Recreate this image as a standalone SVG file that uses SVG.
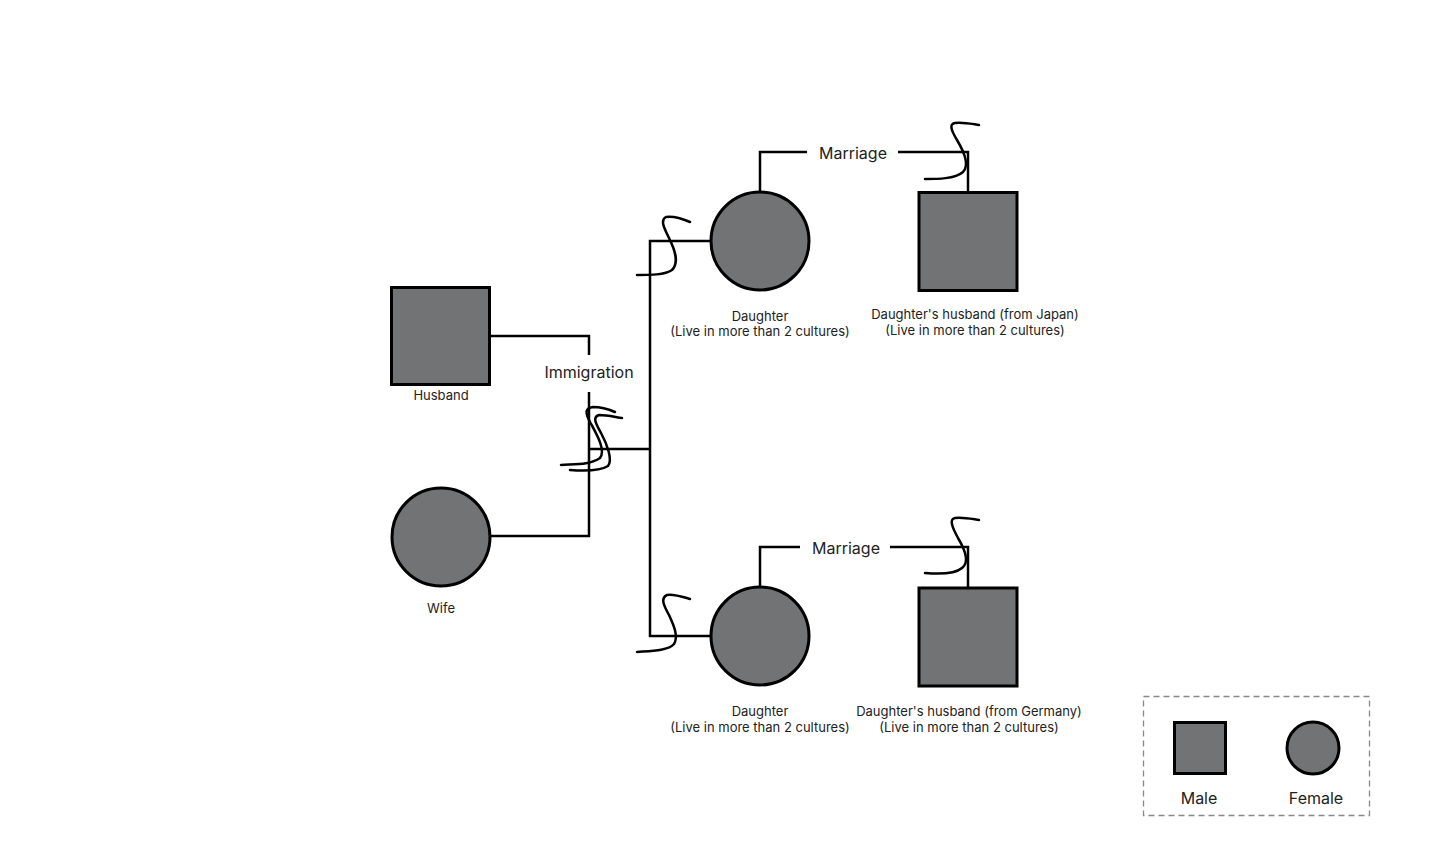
<svg xmlns="http://www.w3.org/2000/svg" width="1443" height="858" viewBox="0 0 1443 858">
<style>
.shape{fill:#727374;stroke:#000;stroke-width:3}
.line{fill:none;stroke:#000;stroke-width:2.5}
.sq{fill:none;stroke:#000;stroke-width:2.5;stroke-linecap:round}
.lbl{font-family:Inter,"Noto Sans",sans-serif;font-size:13px;fill:#222;text-anchor:middle}
.big{font-family:Inter,"Noto Sans",sans-serif;font-size:16px;fill:#222;text-anchor:middle}
</style>
<rect width="1443" height="858" fill="#fff"/>
<g id="connectors">
<polyline class="line" points="490,336 589,336 589,355"/>
<polyline class="line" points="589,392 589,536 490,536"/>
<line class="line" x1="589" y1="449" x2="650" y2="449"/>
<polyline class="line" points="711,241 650,241 650,636 711,636"/>
<polyline class="line" points="760,192 760,152 807,152"/>
<polyline class="line" points="898,152 968,152 968,192"/>
<polyline class="line" points="760,587 760,547 800,547"/>
<polyline class="line" points="890,547 968,547 968,587"/>
<path class="sq" d="M561,465 C575,464 590,465 600,458 C606,450 597,435 590,422 C585,413 585,408 593,407 C600,407 608,409 615,412"/>
<path class="sq" d="M570,470 C583,471 600,471 608,466 C613,460 607,444 601,433 C596,424 592,417 599,415 C607,415 615,417 622,418"/>
<path class="sq" d="M637,275 C650,275 665,275 672,270 C680,262 674,248 669,238 C664,228 660,220 666,217 C673,216 683,219 690,222"/>
<path class="sq" d="M637,652 C650,651 668,651 674,644 C679,636 673,624 669,615 C664,606 660,598 667,595 C674,594 683,597 690,599"/>
<path class="sq" d="M925,179 C937,179 955,179 963,172 C970,165 963,150 957,140 C951,130 949,124 955,123 C963,122 972,124 979,125"/>
<path class="sq" d="M925,573 C937,574 955,574 962,568 C970,562 964,548 958,538 C952,527 949,519 955,518 C963,517 972,519 979,520"/>
</g>
<g id="husband"><rect class="shape" x="391.5" y="287.5" width="98" height="97"/><text class="lbl" x="441" y="400">Husband</text></g>
<g id="wife"><circle class="shape" cx="441" cy="537" r="49"/><text class="lbl" x="441" y="613">Wife</text></g>
<g id="immigration"><text class="big" x="589" y="378">Immigration</text></g>
<g id="daughter1"><circle class="shape" cx="760" cy="241" r="49"/><text class="lbl" x="760" y="321">Daughter</text><text class="lbl" x="760" y="336">(Live in more than 2 cultures)</text></g>
<g id="husband1"><rect class="shape" x="919" y="192.5" width="98" height="98"/><text class="lbl" x="975" y="319">Daughter's husband (from Japan)</text><text class="lbl" x="975" y="335">(Live in more than 2 cultures)</text></g>
<g id="marriage1"><text class="big" x="853" y="159">Marriage</text></g>
<g id="daughter2"><circle class="shape" cx="760" cy="636" r="49"/><text class="lbl" x="760" y="716">Daughter</text><text class="lbl" x="760" y="732">(Live in more than 2 cultures)</text></g>
<g id="husband2"><rect class="shape" x="919" y="588" width="98" height="98"/><text class="lbl" x="969" y="716">Daughter's husband (from Germany)</text><text class="lbl" x="969" y="732">(Live in more than 2 cultures)</text></g>
<g id="marriage2"><text class="big" x="846" y="554">Marriage</text></g>
<g id="legend">
<rect x="1143.5" y="696.5" width="226" height="119" fill="none" stroke="#888" stroke-width="1.3" stroke-dasharray="6,4"/>
<rect class="shape" x="1174.5" y="722.5" width="51" height="51"/>
<circle class="shape" cx="1313" cy="748" r="26"/>
<text class="big" x="1199" y="804">Male</text>
<text class="big" x="1316" y="804">Female</text>
</g>
</svg>
